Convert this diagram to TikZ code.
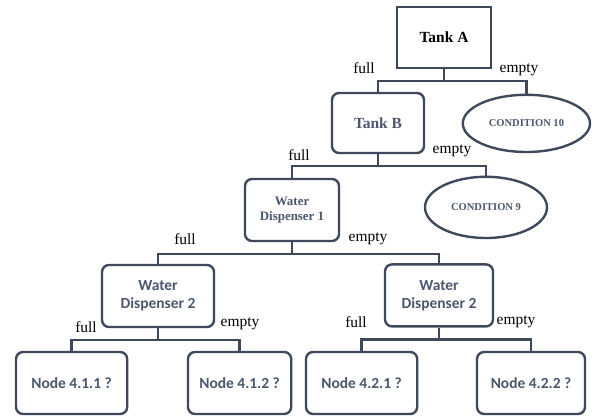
\documentclass[tikz,border=0pt]{standalone}
\usepackage{fontspec}
\setmainfont{Liberation Serif}
\newfontfamily\calib{Carlito}
\usepackage{xcolor}
\usepackage{tikz}
\usetikzlibrary{shapes.geometric,positioning,calc}
\definecolor{linec}{HTML}{3E4A5C}
\definecolor{boxtext}{HTML}{4A576E}
\tikzset{
  link/.style={draw=linec, line width=1.7pt},
  tankbox/.style={draw=linec, line width=1.7pt, align=center, inner sep=2pt,
               font=\bfseries\fontsize{11}{13}\selectfont},
  serifbox/.style={tankbox, rounded corners=5pt, text=boxtext},
  sansbox/.style={draw=linec, line width=1.7pt, rounded corners=5pt, align=center, inner sep=2pt,
               text=boxtext, font=\calib\bfseries\fontsize{11}{13}\selectfont},
  cond/.style={ellipse, draw=linec, line width=1.7pt, inner sep=1pt, text=boxtext,
               font=\bfseries\fontsize{7.5}{9}\selectfont},
  branchlbl/.style={font=\fontsize{11}{13}\selectfont, inner sep=1pt},
}
\def\stem{0.3}
\def\hN{1.55}
\def\yL{0.85}
% parent, left child, right child
\newcommand{\branch}[3]{%
  \draw[link] (#1.south) -- ++(0,-\stem) coordinate (#1bar);
  \draw[link] (#2.north) |- (#1bar) -| (#3.north);}

\begin{document}
\begin{tikzpicture}
  \useasboundingbox (0,0) rectangle (14.875,10.425);
  \node[tankbox, minimum width=2.35cm, minimum height=1.525cm] (tankA) at (11.10,9.49) {Tank A};
  \node[serifbox, minimum width=2.3cm, minimum height=1.5cm] (tankB) at (9.45,7.35) {Tank B};
  \node[cond, minimum width=3.18cm, minimum height=1.43cm] (cond10) at (13.16,7.34) {CONDITION 10};
  \node[serifbox, minimum width=2.35cm, minimum height=\hN cm, font=\bfseries\fontsize{9.2}{11}\selectfont]
    (wd1) at (7.30,5.175) {Water\\Dispenser 1};
  \node[cond, minimum width=3.05cm, minimum height=1.53cm] (cond9) at (12.15,5.24) {CONDITION 9};
  \node[sansbox, minimum width=2.8cm, minimum height=\hN cm] (wdA) at (3.95,3.025) {Water\\Dispenser 2};
  \node[sansbox, minimum width=2.7cm, minimum height=\hN cm] (wdB) at (10.975,3.04) {Water\\Dispenser 2};
  \node[sansbox, minimum width=2.78cm, minimum height=\hN cm] (n411) at (1.79,\yL) {Node 4.1.1 ?};
  \node[sansbox, minimum width=2.58cm, minimum height=\hN cm] (n412) at (5.99,\yL) {Node 4.1.2 ?};
  \node[sansbox, minimum width=2.78cm, minimum height=\hN cm] (n421) at (9.04,\yL) {Node 4.2.1 ?};
  \node[sansbox, minimum width=2.7cm, minimum height=\hN cm] (n422) at (13.275,\yL) {Node 4.2.2 ?};

  \branch{tankA}{tankB}{cond10}
  \branch{tankB}{wd1}{cond9}
  \branch{wd1}{wdA}{wdB}
  \branch{wdA}{n411}{n412}
  \branch{wdB}{n421}{n422}

  \node[branchlbl] (fA) at (9.10,8.725) {full};
  \node[branchlbl] (eA) at (12.975,8.675) {empty};
  \node[branchlbl] (fB) at (7.475,6.55) {full};
  \node[branchlbl] (eB) at (11.30,6.65) {empty};
  \node[branchlbl] (f1) at (4.625,4.45) {full};
  \node[branchlbl] (e1) at (9.2,4.45) {empty};
  \node[branchlbl] (f2a) at (2.15,2.25) {full};
  \node[branchlbl] (e2a) at (6.0,2.325) {empty};
  \node[branchlbl] (f2b) at (8.9,2.375) {full};
  \node[branchlbl] (e2b) at (12.9,2.375) {empty};
\end{tikzpicture}
\end{document}
